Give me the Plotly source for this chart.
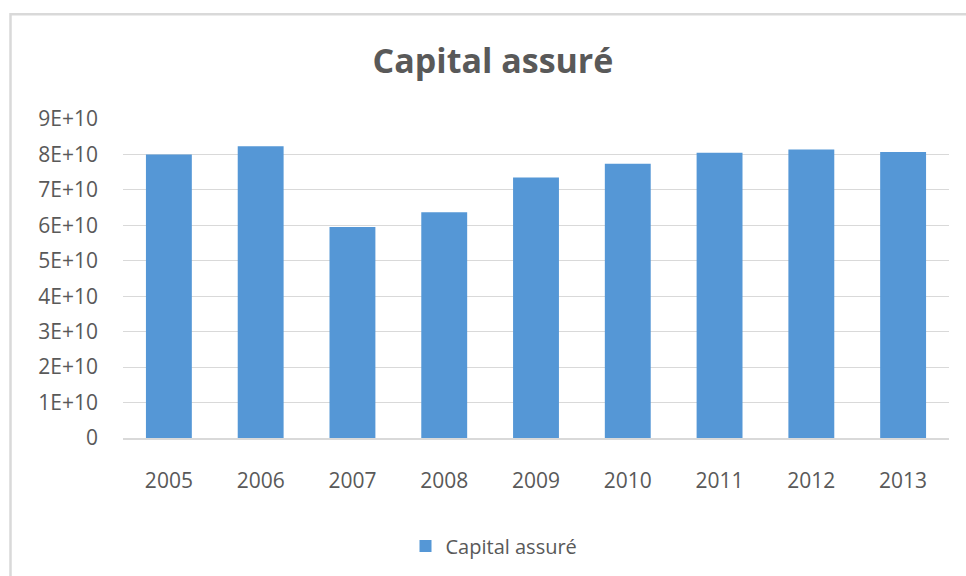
import plotly.graph_objects as go

years = ["2005", "2006", "2007", "2008", "2009", "2010", "2011", "2012", "2013"]
capital = [8.00e10, 8.23e10, 5.95e10, 6.37e10, 7.35e10, 7.74e10, 8.05e10, 8.14e10, 8.07e10]
y_ticks = [0, 1e10, 2e10, 3e10, 4e10, 5e10, 6e10, 7e10, 8e10, 9e10]
y_tick_labels = ["0", "1E+10", "2E+10", "3E+10", "4E+10", "5E+10", "6E+10", "7E+10", "8E+10", "9E+10"]
series_name = "Capital assuré"

W, H = 966, 576
L, R, T, B = 123, 17, 119, 137
pw, ph = W - L - R, H - T - B

def px_x(x):
    return (x - L) / pw

def px_y(y):
    return (H - B - y) / ph

fig = go.Figure()
fig.add_trace(go.Bar(
    x=years, y=capital, name=series_name,
    marker=dict(color="#5597d6", line=dict(width=0)),
))

fig.update_layout(
    width=W, height=H,
    margin=dict(l=L, r=R, t=T, b=B, pad=0),
    paper_bgcolor="white", plot_bgcolor="white",
    font=dict(family="Open Sans", color="#595959", size=21),
    bargap=0.5,
    showlegend=True,
    title=dict(text="<b>Capital assuré</b>", x=493 / W, xref="container", xanchor="center",
               y=1 - 61 / H, yref="container", yanchor="middle",
               font=dict(family="Open Sans", size=34, color="#595959")),
    legend=dict(orientation="h", x=px_x(494), xanchor="center", y=px_y(546), yanchor="middle",
                font=dict(size=20, color="#595959"), itemwidth=30),
    xaxis=dict(showgrid=False, showline=True, linecolor="#d9d9d9", linewidth=2,
               ticks="", ticklabelstandoff=23, tickfont=dict(size=21)),
    yaxis=dict(range=[0, 9e10], tickvals=y_ticks, ticktext=y_tick_labels,
               showgrid=True, gridcolor="#d9d9d9", gridwidth=1, zeroline=False,
               showline=False, ticks="", ticklabelstandoff=24, tickfont=dict(size=21)),
    shapes=[dict(type="rect", xref="paper", yref="paper",
                 x0=px_x(10.5), x1=px_x(1010), y0=px_y(620), y1=px_y(14),
                 line=dict(color="#d9d9d9", width=2.5), fillcolor="rgba(0,0,0,0)", layer="below")],
)

fig.write_html("out.html")
